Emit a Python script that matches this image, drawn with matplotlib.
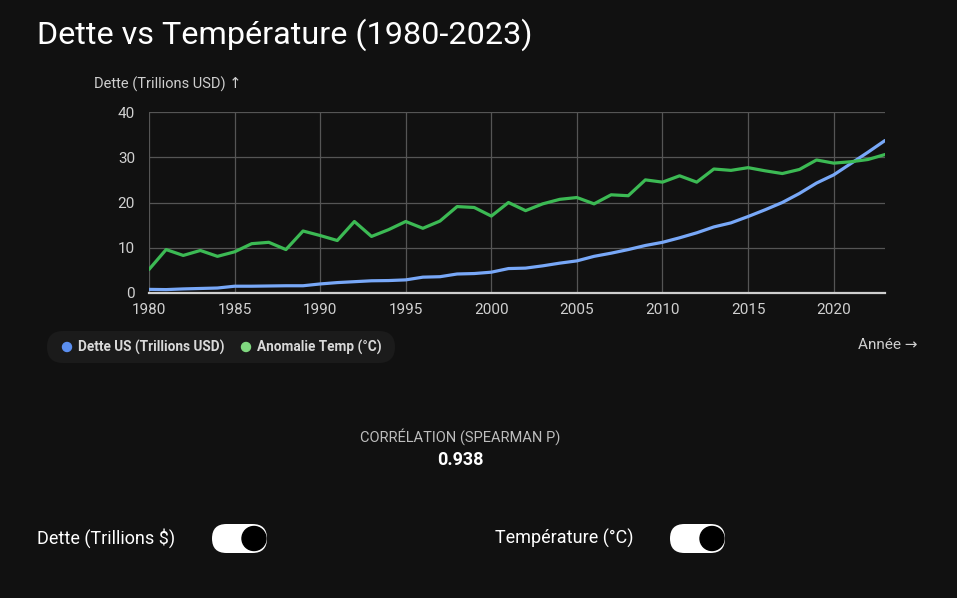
import numpy as np
import matplotlib.pyplot as plt
from matplotlib.patches import FancyBboxPatch, Circle

plt.rcParams['font.family'] = ['Roboto', 'DejaVu Sans']

years = list(range(1980, 2024))
dette = [0.8, 0.75, 0.9, 1.0, 1.1, 1.5, 1.5, 1.55, 1.6, 1.6,
         2.0, 2.3, 2.5, 2.7, 2.75, 2.9, 3.5, 3.6, 4.2, 4.3,
         4.6, 5.4, 5.5, 6.0, 6.6, 7.1, 8.1, 8.8, 9.6, 10.5,
         11.2, 12.2, 13.3, 14.6, 15.5, 16.9, 18.4, 20.0, 22.0, 24.3,
         26.1, 28.6, 31.1, 33.7]
temp = [5.2, 9.6, 8.3, 9.4, 8.1, 9.1, 10.9, 11.2, 9.6, 13.7,
        12.7, 11.6, 15.8, 12.5, 14.0, 15.8, 14.3, 15.9, 19.1, 18.9,
        17.0, 20.0, 18.2, 19.7, 20.7, 21.1, 19.7, 21.7, 21.5, 25.0,
        24.5, 25.9, 24.5, 27.4, 27.1, 27.7, 27.0, 26.4, 27.3, 29.4,
        28.7, 29.0, 29.5, 30.6]
xticks = [1980, 1985, 1990, 1995, 2000, 2005, 2010, 2015, 2020]
yticks = [0, 10, 20, 30, 40]
correlation = 0.938

bg = '#111111'
W, H = 957, 598
fig = plt.figure(figsize=(W / 100, H / 100), dpi=100, facecolor=bg)

# main chart
ax = fig.add_axes([149 / W, 1 - 293 / H, (885 - 149) / W, (293 - 112) / H])
ax.set_facecolor(bg)
ax.plot(years, dette, color='#78a8f8', lw=2.3, solid_capstyle='round', zorder=3)
ax.plot(years, temp, color='#3cba54', lw=2.3, solid_capstyle='round', zorder=3)
ax.set_xlim(1980, 2023)
ax.set_ylim(0, 40)
ax.set_xticks(xticks)
ax.set_yticks(yticks)
ax.grid(True, color='#555555', lw=0.9)
for s in ['top', 'right', 'left']:
    ax.spines[s].set_visible(False)
ax.spines['bottom'].set_color('#cfcfcf')
ax.spines['bottom'].set_linewidth(1.6)
ax.tick_params(length=0, colors='#d0d0d0', labelsize=11)
ax.tick_params(axis='y', pad=10)
ax.tick_params(axis='x', pad=7)

# overlay in pixel coords for the page decorations
ov = fig.add_axes([0, 0, 1, 1], zorder=-1)
ov.set_xlim(0, W)
ov.set_ylim(H, 0)
ov.axis('off')
ov.patch.set_alpha(0)

ov.text(37, 35, 'Dette vs Température (1980-2023)', color='white',
        fontsize=23.3, va='center', ha='left')
ov.text(94, 84, 'Dette (Trillions USD) ↑', color='#cfcfcf',
        fontsize=10.5, va='center', ha='left')
ov.text(918, 345, 'Année →', color='#cfcfcf', fontsize=11,
        va='center', ha='right')

# legend
ov.add_patch(FancyBboxPatch((47, 331), 348, 32,
                            boxstyle='round,pad=0,rounding_size=16',
                            fc='#1b1b1b', ec='none'))
ov.add_patch(Circle((67, 347), 4.5, color='#5b8ff0'))
ov.text(78, 347.5, 'Dette US (Trillions USD)', color='#d8d8d8', fontsize=9.8,
        fontweight='semibold', va='center', ha='left')
ov.add_patch(Circle((246, 347), 4.5, color='#80d880'))
ov.text(257, 347.5, 'Anomalie Temp (°C)', color='#d8d8d8', fontsize=9.8,
        fontweight='semibold', va='center', ha='left')

# correlation
ov.text(460, 437, 'CORRÉLATION (SPEARMAN P)', color='#bdbdbd', fontsize=10.5,
        va='center', ha='center')
ov.text(460, 460, f'{correlation:.3f}', color='white', fontsize=13,
        fontweight='bold', va='center', ha='center')

# toggles
for label, tx, px in [('Dette (Trillions $)', 37, 212),
                      ('Température (°C)', 495, 670)]:
    ov.text(tx, 538, label, color='white', fontsize=13, va='center', ha='left')
    ov.add_patch(FancyBboxPatch((px, 524), 55, 29,
                                boxstyle='round,pad=0,rounding_size=14.5',
                                fc='white', ec='none'))
    ov.add_patch(Circle((px + 42, 538.5), 12, color='black'))

plt.savefig('out.png', dpi=100, facecolor=bg)
